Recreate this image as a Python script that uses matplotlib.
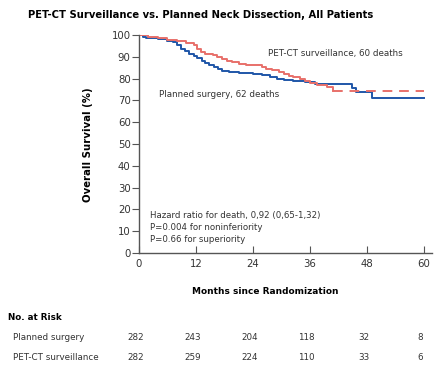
import numpy as np
import matplotlib.pyplot as plt
import matplotlib.transforms as mtransforms

# Kaplan-Meier curves (months, survival %)
surg_t = [0, 0.8, 1.5, 4, 6, 7.2, 8, 8.8, 9.6, 10.5, 11.5, 12.3, 13.2, 14, 14.8, 15.8,
          16.6, 17.4, 19, 21, 24, 26, 27.5, 29, 30.5, 32.5, 35, 37, 44.8, 45.8, 49.1, 60]
surg_s = [100, 99.3, 98.6, 98.2, 97.4, 96.6, 95.2, 93.8, 92.6, 91.4, 90.2, 89.3, 88.2, 87.2, 86.3, 85.2,
          84.2, 83.3, 82.8, 82.4, 82.0, 81.5, 80.8, 80.0, 79.2, 78.8, 78.4, 77.6, 75.6, 74.0, 71.0, 71.0]

pet_t = [0, 2, 4, 6, 8, 10, 11.5, 12.3, 13, 14, 15.5, 16.5, 17.5, 18.5, 19.5, 21, 22.5,
         26, 26.8, 28, 29.5, 30.5, 31.5, 32.5, 34, 35, 36, 37.5, 39.5, 40.9]
pet_s = [100, 99.3, 98.6, 97.9, 97.2, 96.4, 95.2, 93.5, 92.2, 91.5, 90.6, 90.0, 89.2, 88.3, 87.6, 86.8, 86.2,
         85.3, 84.6, 84.0, 83.2, 82.2, 81.4, 80.8, 80.0, 79.0, 78.2, 77.1, 76.3, 74.3]
pet_tail_t = [40.9, 60]
pet_tail_s = [74.3, 74.3]

risk_times = [0, 12, 24, 36, 48, 60]
risk_surg = [282, 243, 204, 118, 32, 8]
risk_pet = [282, 259, 224, 110, 33, 6]

blue = '#1f56a8'
red = '#e8706a'
grey = '#555555'
txt = '#333333'

plt.rcParams['font.family'] = 'DejaVu Sans'

fig = plt.figure(figsize=(4.43, 3.75), dpi=100)
ax = fig.add_axes([139/443, 1-253/375, (432-139)/443, 218/375])

ax.step(surg_t, surg_s, where='post', color=blue, lw=1.4)
ax.step(pet_t, pet_s, where='post', color=red, lw=1.4)
ax.plot(pet_tail_t, pet_tail_s, color=red, lw=1.4, dashes=(5, 3.5))

ax.set_xlim(0, 61.7)
ax.set_ylim(0, 100)
ax.set_xticks(risk_times)
ax.set_yticks(np.arange(0, 101, 10))
ax.spines[['top', 'right']].set_visible(False)
for s in ['left', 'bottom']:
    ax.spines[s].set_color(grey)
    ax.spines[s].set_linewidth(1.0)
ax.tick_params(axis='x', direction='in', length=5, color=grey, labelsize=7.3, labelcolor=txt, pad=4)
ax.tick_params(axis='y', direction='out', length=5, color=grey, labelsize=7.3, labelcolor=txt, pad=1)

ax.text(27.2, 91.3, 'PET-CT surveillance, 60 deaths', fontsize=6.3, color=txt, va='center')
ax.text(4.2, 72.9, 'Planned surgery, 62 deaths', fontsize=6.3, color=txt, va='center')
ax.text(2.3, 17.4, 'Hazard ratio for death, 0,92 (0,65-1,32)', fontsize=6.2, color=txt, va='center')
ax.text(2.3, 11.5, 'P=0.004 for noninferiority', fontsize=6.2, color=txt, va='center')
ax.text(2.3, 6.0, 'P=0.66 for superiority', fontsize=6.2, color=txt, va='center')

fig.text(28/443, 1-15/375, 'PET-CT Surveillance vs. Planned Neck Dissection, All Patients',
         fontsize=7.2, fontweight='bold', va='center', ha='left')
fig.text(88/443, 1-145/375, 'Overall Survival (%)', fontsize=7.3, fontweight='bold',
         rotation=90, va='center', ha='center')
fig.text(265/443, 1-291/375, 'Months since Randomization', fontsize=6.5, fontweight='bold',
         va='center', ha='center')

# risk table
fig.text(8/443, 1-318/375, 'No. at Risk', fontsize=6.3, fontweight='bold', va='center')
fig.text(13/443, 1-337/375, 'Planned surgery', fontsize=6.3, color=txt, va='center')
fig.text(13/443, 1-357/375, 'PET-CT surveillance', fontsize=6.3, color=txt, va='center')
tr = mtransforms.blended_transform_factory(ax.transData, fig.transFigure)
tr = tr + mtransforms.ScaledTranslation(-3.5/100, 0, fig.dpi_scale_trans)
for t, a, b in zip(risk_times, risk_surg, risk_pet):
    fig.text(t, 1-337/375, str(a), transform=tr, fontsize=6.3, color=txt, ha='center', va='center')
    fig.text(t, 1-357/375, str(b), transform=tr, fontsize=6.3, color=txt, ha='center', va='center')

fig.savefig('out.png', dpi=100)
